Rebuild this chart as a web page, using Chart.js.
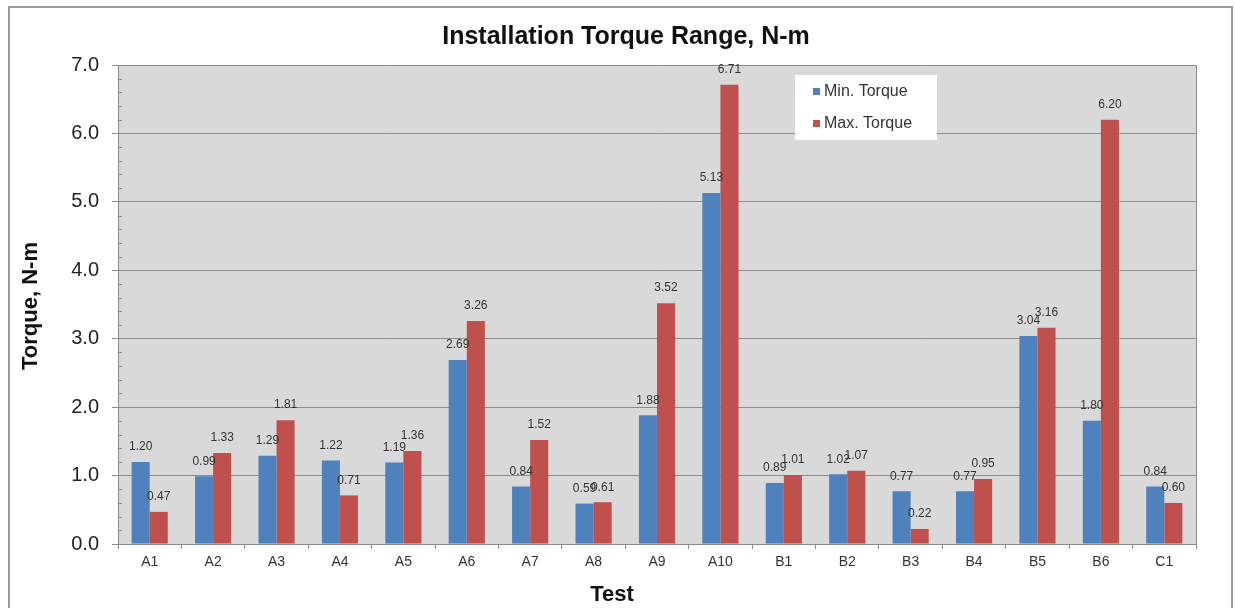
<!DOCTYPE html>
<html>
<head>
<meta charset="utf-8">
<script src="https://cdn.jsdelivr.net/npm/chart.js@4/dist/chart.umd.min.js"></script>
<style>
  body { margin: 0; background: #fff; }
  #wrap { position: relative; width: 1235px; height: 608px; }
</style>
</head>
<body>
<div id="wrap"><canvas id="myChart"></canvas></div>
<script>
// data
const tests = ['A1', 'A2', 'A3', 'A4', 'A5', 'A6', 'A7', 'A8', 'A9', 'A10', 'B1', 'B2', 'B3', 'B4', 'B5', 'B6', 'C1']
const minTorque = [1.20, 0.99, 1.29, 1.22, 1.19, 2.69, 0.84, 0.59, 1.88, 5.13, 0.89, 1.02, 0.77, 0.77, 3.04, 1.80, 0.84]
const maxTorque = [0.47, 1.33, 1.81, 0.71, 1.36, 3.26, 1.52, 0.61, 3.52, 6.71, 1.01, 1.07, 0.22, 0.95, 3.16, 6.20, 0.60]
const yTicks = [0, 1, 2, 3, 4, 5, 6, 7]

const FONT = '"Liberation Sans", Arial, sans-serif'
const gridGray = '#8c8c8c'

// frame, plot background, titles, legend, value labels
const decorations = {
  id: 'decorations',
  beforeDraw(chart) {
    const ctx = chart.ctx
    const a = chart.chartArea
    ctx.save()
    ctx.strokeStyle = '#9a9a9a'
    ctx.lineWidth = 2
    ctx.strokeRect(9, 7, 1223, 640)
    ctx.fillStyle = '#d9d9d9'
    ctx.fillRect(a.left, a.top, a.right - a.left, a.bottom - a.top)
    ctx.restore()
  },
  afterDraw(chart) {
    const ctx = chart.ctx
    const a = chart.chartArea
    const y = chart.scales.y
    ctx.save()
    // right edge of plot
    ctx.strokeStyle = gridGray
    ctx.lineWidth = 1
    ctx.beginPath()
    ctx.moveTo(a.right + 0.5, a.top)
    ctx.lineTo(a.right + 0.5, a.bottom)
    ctx.stroke()
    // minor ticks on y axis
    for (let k = 1; k < 35; k++) {
      if (k % 5 === 0) continue
      const py = Math.round(y.getPixelForValue(k * 0.2)) + 0.5
      ctx.beginPath()
      ctx.moveTo(a.left, py)
      ctx.lineTo(a.left + 4, py)
      ctx.stroke()
    }
    // titles
    ctx.fillStyle = '#111'
    ctx.textAlign = 'center'
    ctx.textBaseline = 'middle'
    ctx.font = 'bold 25px ' + FONT
    ctx.fillText('Installation Torque Range, N-m', 626, 37)
    ctx.font = 'bold 22px ' + FONT
    ctx.fillText('Test', 612, 595)
    ctx.translate(31, 306)
    ctx.rotate(-Math.PI / 2)
    ctx.fillText('Torque, N-m', 0, 0)
    ctx.restore()

    // legend box
    ctx.save()
    ctx.fillStyle = '#fff'
    ctx.fillRect(795, 75, 142, 65)
    const items = [
      { text: 'Min. Torque', color: chart.data.datasets[0].backgroundColor, y: 92 },
      { text: 'Max. Torque', color: chart.data.datasets[1].backgroundColor, y: 124 }
    ]
    ctx.font = '16px ' + FONT
    ctx.textBaseline = 'middle'
    ctx.textAlign = 'left'
    items.forEach(it => {
      ctx.fillStyle = it.color
      ctx.fillRect(813, it.y - 4, 7, 7)
      ctx.fillStyle = '#333'
      ctx.fillText(it.text, 824, it.y)
    })
    ctx.restore()

    // value labels
    ctx.save()
    ctx.font = '12px ' + FONT
    ctx.fillStyle = '#333'
    ctx.textAlign = 'center'
    ctx.textBaseline = 'middle'
    chart.data.datasets.forEach((ds, i) => {
      chart.getDatasetMeta(i).data.forEach((bar, j) => {
        ctx.fillText(ds.data[j].toFixed(2), bar.x, bar.y - 15)
      })
    })
    ctx.restore()
  }
}

const ctx = document.getElementById('myChart')

new Chart(ctx, {
  type: 'bar',
  data: {
    labels: tests,
    datasets: [{
      label: 'Min. Torque',
      data: minTorque,
      backgroundColor: '#4f81bd'
    }, {
      label: 'Max. Torque',
      data: maxTorque,
      backgroundColor: '#c0504d'
    }]
  },
  options: {
    responsive: true,
    maintainAspectRatio: false,
    animation: false,
    layout: { padding: { top: 65, right: 39, left: 0, bottom: 0 } },
    datasets: { bar: { categoryPercentage: 0.57, barPercentage: 1 } },
    plugins: {
      legend: { display: false },
      title: { display: false },
      tooltip: { enabled: false }
    },
    scales: {
      x: {
        grid: { offset: true, drawOnChartArea: false, tickLength: 5, color: gridGray },
        border: { color: gridGray },
        ticks: { color: '#333', font: { family: FONT, size: 14 }, padding: 5 },
        afterFit(scale) { scale.height = 64 }
      },
      y: {
        min: 0,
        max: 7,
        afterBuildTicks(scale) { scale.ticks = yTicks.map(v => ({ value: v })) },
        grid: { color: gridGray, tickLength: 6 },
        border: { color: gridGray },
        ticks: {
          color: '#222',
          font: { family: FONT, size: 20 },
          padding: 13,
          callback: v => v.toFixed(1)
        },
        afterFit(scale) { scale.width = 118 }
      }
    }
  },
  plugins: [decorations]
})
</script>
</body>
</html>
